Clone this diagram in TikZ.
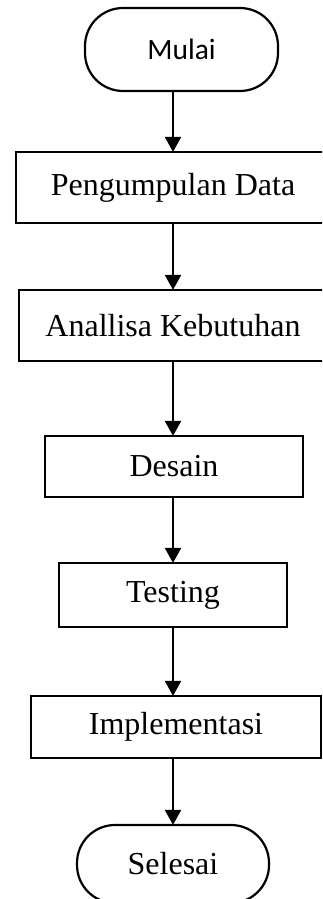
\documentclass[tikz,border=0pt]{standalone}
\usepackage{fontspec}
\setmainfont{Liberation Serif}
\newfontfamily\calibrifont{Carlito}
\usetikzlibrary{arrows.meta}
\begin{document}
\begin{tikzpicture}[x=1pt,y=-1pt,
  box/.style={draw=black, line width=2.2pt, rectangle, inner sep=0pt, font=\fontsize{32}{32}\selectfont},
  term/.style={draw=black, line width=2.2pt, rectangle, rounded corners=38pt, inner sep=0pt},
  flow/.style={draw=black, line width=2.2pt, -{Triangle[width=16pt,length=15pt]}, shorten >=-1pt}]
\useasboundingbox (0,0) rectangle (322,899);
\fill[white] (0,0) rectangle (322,899);
\clip (0,0) rectangle (322,899);
\node[term, minimum width=193pt, minimum height=83pt, font=\calibrifont\fontsize{29.5}{29.5}\selectfont] (mulai) at (181.5,49.5) {Mulai};
\node[box, minimum width=314pt, minimum height=71pt] (peng) at (173,187.5) {Pengumpulan Data};
\node[box, minimum width=308pt, minimum height=71pt] (anal) at (173,325.5) {Anallisa Kebutuhan};
\node[box, minimum width=258pt, minimum height=61pt] (desain) at (174,466.5) {Desain};
\node[box, minimum width=228pt, minimum height=64pt] (testing) at (173,595) {Testing};
\node[box, minimum width=290pt, minimum height=62pt] (impl) at (176,727) {Implementasi};
\node[term, minimum width=192pt, minimum height=78pt, font=\fontsize{32}{32}\selectfont] (selesai) at (173,864) {Selesai};
\coordinate (x) at (173,0);
\draw[flow] (x |- mulai.south) -- (x |- peng.north);
\draw[flow] (x |- peng.south) -- (x |- anal.north);
\draw[flow] (x |- anal.south) -- (x |- desain.north);
\draw[flow] (x |- desain.south) -- (x |- testing.north);
\draw[flow] (x |- testing.south) -- (x |- impl.north);
\draw[flow] (x |- impl.south) -- (x |- selesai.north);
\end{tikzpicture}
\end{document}
